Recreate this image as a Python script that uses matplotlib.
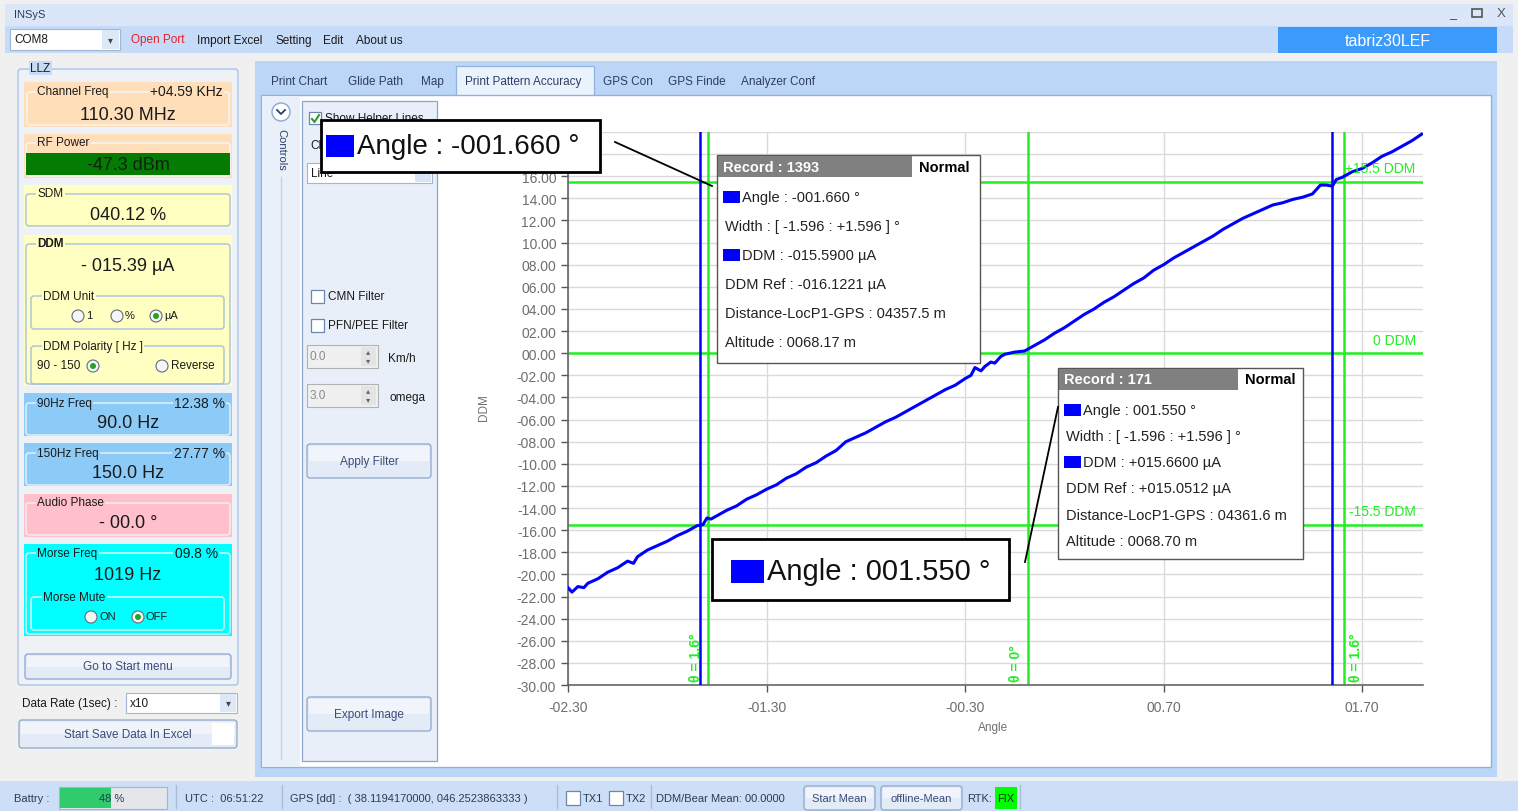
import matplotlib
matplotlib.use("Agg")
import matplotlib.pyplot as plt
from matplotlib.patches import Rectangle, FancyBboxPatch, Circle
from matplotlib.ticker import FixedLocator, FuncFormatter

plt.rcParams["font.family"] = ["Liberation Sans", "DejaVu Sans"]

# ---- chart data ----
angle = [-2.30, -2.28, -2.25, -2.22, -2.20, -2.15, -2.10, -2.05, -2.00, -1.97,
         -1.95, -1.90, -1.85, -1.80, -1.75, -1.70, -1.65, -1.62, -1.60, -1.58,
         -1.55, -1.50, -1.45, -1.40, -1.35, -1.30, -1.25, -1.20, -1.15, -1.10,
         -1.05, -1.00, -0.95, -0.90, -0.85, -0.80, -0.75, -0.70, -0.65, -0.60,
         -0.55, -0.50, -0.45, -0.40, -0.35, -0.30, -0.27, -0.25, -0.22, -0.20,
         -0.17, -0.15, -0.12, -0.10, -0.05, 0.00, 0.02, 0.05, 0.10, 0.15,
         0.20, 0.25, 0.30, 0.35, 0.40, 0.45, 0.50, 0.55, 0.60, 0.65,
         0.70, 0.75, 0.80, 0.85, 0.90, 0.95, 1.00, 1.05, 1.10, 1.15,
         1.20, 1.25, 1.30, 1.35, 1.40, 1.45, 1.49, 1.52, 1.55, 1.57,
         1.60, 1.65, 1.70, 1.75, 1.80, 1.85, 1.90, 1.95, 2.00]
ddm = [-21.2, -21.6, -21.1, -21.2, -20.8, -20.4, -19.8, -19.4, -18.8, -19.0,
       -18.4, -17.8, -17.4, -17.0, -16.5, -16.1, -15.6, -15.5, -14.9, -15.0,
       -14.7, -14.2, -13.8, -13.2, -12.8, -12.3, -11.9, -11.3, -10.9, -10.3,
       -9.9, -9.3, -8.8, -8.0, -7.6, -7.2, -6.7, -6.2, -5.8, -5.3,
       -4.8, -4.3, -3.8, -3.3, -2.9, -2.3, -2.0, -1.3, -1.6, -1.2,
       -0.8, -0.9, -0.3, -0.1, 0.1, 0.2, 0.4, 0.7, 1.2, 1.8,
       2.3, 2.9, 3.5, 4.0, 4.6, 5.1, 5.7, 6.3, 6.8, 7.5,
       8.0, 8.6, 9.1, 9.6, 10.1, 10.6, 11.2, 11.7, 12.2, 12.6,
       13.0, 13.4, 13.6, 13.9, 14.1, 14.4, 15.2, 15.2, 15.1, 15.7,
       15.9, 16.4, 16.7, 17.2, 17.8, 18.2, 18.7, 19.2, 19.8]

helper_ddm = [15.5, 0.0, -15.5]
helper_ddm_labels = ["+15.5 DDM", "0 DDM", "-15.5 DDM"]
helper_theta = [-1.596, 0.015, 1.61]
helper_theta_labels = ["θ = 1.6°", "θ = 0°", "θ = 1.6°"]
record_angles = [-1.635, 1.549]
x_ticks = [-2.30, -1.30, -0.30, 0.70, 1.70]
y_ticks = list(range(-30, 21, 2))

record_titles = ["Record : 1393", "Record : 171"]
record_lines = [
    ["Angle : -001.660 °", "Width : [ -1.596 : +1.596 ] °", "DDM : -015.5900 µA",
     "DDM Ref : -016.1221 µA", "Distance-LocP1-GPS : 04357.5 m", "Altitude : 0068.17 m"],
    ["Angle : 001.550 °", "Width : [ -1.596 : +1.596 ] °", "DDM : +015.6600 µA",
     "DDM Ref : +015.0512 µA", "Distance-LocP1-GPS : 04361.6 m", "Altitude : 0068.70 m"],
]
callout_texts = ["Angle : -001.660 °", "Angle : 001.550 °"]

tabs = ["Print Chart", "Glide Path", "Map", "Print Pattern Accuracy", "GPS Con",
        "GPS Finde", "Analyzer Conf"]
menu_items = ["Import Excel", "Setting", "Edit", "About us"]

W, H = 1518, 812
fig = plt.figure(figsize=(W / 100, H / 100), dpi=100)

ui = fig.add_axes([0, 0, 1, 1], zorder=0)
ui.set_xlim(0, W)
ui.set_ylim(H, 0)
ui.axis("off")

top = fig.add_axes([0, 0, 1, 1], zorder=5)
top.set_xlim(0, W)
top.set_ylim(H, 0)
top.axis("off")
top.patch.set_alpha(0)

TXT = "#1a1a1a"
BTN = "#3b4b78"


def rect(ax, x0, y0, x1, y1, fc, ec="none", lw=1.0, z=1):
    ax.add_patch(Rectangle((x0, y0), x1 - x0, y1 - y0, facecolor=fc,
                           edgecolor=ec, linewidth=lw, zorder=z))


def rrect(ax, x0, y0, x1, y1, fc, ec, lw=1.0, z=1, r=3):
    ax.add_patch(FancyBboxPatch((x0, y0), x1 - x0, y1 - y0,
                                boxstyle=f"round,pad=0,rounding_size={r}",
                                facecolor=fc, edgecolor=ec, linewidth=lw, zorder=z))


def txt(ax, x, y, s, size=8.5, color=TXT, ha="left", z=6, **kw):
    return ax.text(x, y, s, fontsize=size, color=color, ha=ha, va="center", zorder=z, **kw)


def group_title(ax, x, y, s, bg, size=8.5, ha="left", **kw):
    ax.text(x, y, s, fontsize=size, color=TXT, ha=ha, va="center", zorder=6,
            bbox=dict(facecolor=bg, edgecolor="none", pad=1.0), **kw)


def radio(ax, x, y, checked=False):
    ax.add_patch(Circle((x, y), 6, facecolor="#f6f6f6", edgecolor="#5f6f80",
                        linewidth=0.8, zorder=5))
    if checked:
        ax.add_patch(Circle((x, y), 3, facecolor="#26a326", edgecolor="none", zorder=6))


def checkbox(ax, x0, y0, size=13, checked=False):
    rect(ax, x0, y0, x0 + size, y0 + size, "white", "#6d87ab", 0.9, z=5)
    if checked:
        ax.plot([x0 + 3, x0 + 5.5, x0 + 10], [y0 + 7, y0 + 10, y0 + 3],
                color="#2f9a2f", lw=1.5, zorder=6)


def button(ax, x0, y0, x1, y1, label, size=8.5):
    rrect(ax, x0, y0, x1, y1, "#e3ebf7", "#8aa6cc", 0.9, z=3, r=3)
    rect(ax, x0 + 2, y0 + 2, x1 - 2, (y0 + y1) / 2, "#f1f5fb", z=3)
    txt(ax, (x0 + x1) / 2, (y0 + y1) / 2, label, size, BTN, ha="center")


# ---- window frame ----
rect(ui, 0, 0, W, H, "#f0f0f0", z=0)
rect(ui, 5, 5, 1513, 27, "#dbe7f9")
txt(ui, 14, 15, "INSyS", 8, "#2a3a5a")
txt(ui, 1453, 14, "_", 9, "#444", ha="center")
rect(ui, 1472, 10, 1482, 18, "none", "#555", 1.2, z=3)
txt(ui, 1501, 14, "X", 9.5, "#555", ha="center")

rect(ui, 5, 27, 1513, 54, "#c5dbf8")
rect(ui, 10, 30, 120, 51, "white", "#a2b6d2", 0.8, z=3)
rect(ui, 102, 31, 119, 50, "#dde8f6", z=3)
txt(ui, 110, 40, "▾", 7, "#444", ha="center")
txt(ui, 14, 40, "COM8", 8.5)
txt(ui, 131, 40, "Open Port", 8.5, "#e3222c")
for label, x in zip(menu_items, [197, 276, 323, 356]):
    txt(ui, x, 41, label, 8.5)
rect(ui, 1278, 28, 1497, 54, "#3c9bfa", z=3)
txt(ui, 1388, 41, "tabriz30LEF", 11.5, "white", ha="center")

# ---- left LLZ panel ----
rrect(ui, 18, 70, 238, 686, "#eef1f6", "#a9c4e8", 1.0, z=1)
group_title(ui, 30, 69, "LLZ", "#c7dbf5", 8.5)

PEACH, YEL, BLUE, PINK, CYAN = "#ffdfba", "#ffffc2", "#8ccbf7", "#ffc0cb", "#00ffff"
INNER = "#a8c0e0"

# Channel Freq
rect(ui, 24, 83, 232, 128, PEACH, z=2)
rrect(ui, 27, 93, 229, 126, "none", "#f7f7f7", 1.0, z=3)
group_title(ui, 37, 92, "Channel Freq", PEACH)
group_title(ui, 223, 92, "+04.59 KHz", PEACH, 10, ha="right")
txt(ui, 128, 115, "110.30 MHz", 13, ha="center")
# RF Power
rect(ui, 24, 135, 232, 179, PEACH, z=2)
rrect(ui, 26, 144, 230, 177, "none", "#f7f7f7", 1.0, z=3)
group_title(ui, 37, 143, "RF Power", PEACH)
rect(ui, 26, 154, 230, 176, "#047c04", z=4)
txt(ui, 128, 165, "-47.3 dBm", 13, "#102010", ha="center")
# SDM
rect(ui, 24, 186, 232, 229, YEL, z=2)
rrect(ui, 26, 195, 230, 227, "none", INNER, 1.0, z=3)
group_title(ui, 37, 194, "SDM", YEL)
txt(ui, 128, 216, "040.12 %", 13, ha="center")
# DDM
rect(ui, 24, 236, 232, 387, YEL, z=2)
rrect(ui, 26, 245, 230, 385, "none", INNER, 1.0, z=3)
group_title(ui, 37, 244, "DDM", YEL, weight="bold")
txt(ui, 128, 267, "- 015.39 µA", 13, ha="center")
rrect(ui, 31, 297, 224, 330, "none", INNER, 1.0, z=3)
group_title(ui, 43, 297, "DDM Unit", YEL)
for x, lab, chk in [(78, "1", False), (117, "%", False), (156, "µA", True)]:
    radio(ui, x, 317, chk)
    txt(ui, x + 8, 316, lab, 8)
rrect(ui, 31, 347, 224, 385, "none", INNER, 1.0, z=3)
group_title(ui, 43, 347, "DDM Polarity [ Hz ]", YEL)
txt(ui, 37, 366, "90 - 150", 8.5)
radio(ui, 93, 367, True)
radio(ui, 162, 367, False)
txt(ui, 171, 366, "Reverse", 8.5)
# 90 / 150 Hz
for y0, name, pct, val in [(394, "90Hz Freq", "12.38 %", "90.0 Hz"),
                           (444, "150Hz Freq", "27.77 %", "150.0 Hz")]:
    rect(ui, 24, y0, 232, y0 + 43, BLUE, z=2)
    rrect(ui, 26, y0 + 10, 230, y0 + 42, "none", "#e8f2fc", 1.0, z=3)
    group_title(ui, 37, y0 + 10, name, BLUE)
    group_title(ui, 225, y0 + 10, pct, BLUE, 10, ha="right")
    txt(ui, 128, y0 + 30, val, 13, ha="center")
# Audio Phase
rect(ui, 24, 495, 232, 538, PINK, z=2)
rrect(ui, 26, 504, 230, 536, "none", "#f2f2f2", 1.0, z=3)
group_title(ui, 37, 503, "Audio Phase", PINK)
txt(ui, 128, 524, "- 00.0 °", 13, ha="center")
# Morse
rect(ui, 24, 545, 232, 637, CYAN, z=2)
rrect(ui, 26, 554, 230, 635, "none", "#f2f2f2", 1.0, z=3)
group_title(ui, 37, 554, "Morse Freq", CYAN)
group_title(ui, 218, 554, "09.8 %", CYAN, 10, ha="right")
txt(ui, 128, 576, "1019 Hz", 13, ha="center")
rrect(ui, 31, 598, 224, 631, "none", "#f2f2f2", 1.0, z=3)
group_title(ui, 43, 598, "Morse Mute", CYAN)
radio(ui, 91, 618, False)
txt(ui, 99, 617, "ON", 8)
radio(ui, 138, 618, True)
txt(ui, 146, 617, "OFF", 8)

button(ui, 25, 655, 231, 680, "Go to Start menu")
txt(ui, 22, 704, "Data Rate (1sec) :", 8.5)
rect(ui, 126, 694, 237, 714, "white", "#a2b6d2", 0.8, z=3)
rect(ui, 220, 695, 236, 713, "#dde8f6", z=3)
txt(ui, 228, 703, "▾", 7, "#444", ha="center")
txt(ui, 130, 704, "x10", 8.5)
button(ui, 19, 721, 237, 749, "Start Save Data In Excel")
rect(ui, 212, 724, 234, 746, "white", z=4)

# ---- main tab area ----
rect(ui, 255, 62, 1497, 778, "#bcd6f7", z=1)
rect(ui, 456, 67, 594, 97, "#eaf2fc", "#8fb3e3", 0.9, z=2)
for label, x in zip(tabs, [271, 348, 421, 465, 603, 668, 741]):
    txt(ui, x, 82, label, 8.5, "#2c3e66")
rect(ui, 261, 96, 1491, 768, "white", "#8db2e2", 1.0, z=2)
rect(ui, 262, 97, 300, 767, "#e9f0fa", z=2)
ui.add_patch(Circle((281, 113), 9, facecolor="white", edgecolor="#8aa8d0", lw=1, zorder=4))
ui.plot([277, 281, 285], [111, 115, 111], color="#2c3e66", lw=1.3, zorder=5)
txt(ui, 281, 150, "Controls", 8, "#2c3e66", ha="center", rotation=-90)
ui.plot([281, 281], [178, 760], color="#c5d4ea", lw=1, zorder=3)

rect(ui, 302, 102, 437, 762, "#e8eff9", "#8aa6cc", 0.9, z=2)
checkbox(ui, 309, 113, 12, True)
# helper-lines caption sits under the big callout, only its top shows
helper_cap = txt(ui, 325, 119, "Show Helper Lines", 8.5)
helper_cap.set_clip_path(Rectangle((322, 100), 300, 21, transform=ui.transData))
txt(ui, 310, 146, "Ch", 8.5)
rect(ui, 307, 164, 432, 184, "white", "#a2b6d2", 0.8, z=3)
rect(ui, 415, 165, 431, 183, "#d8e4f4", z=3)
txt(ui, 311, 174, "Line", 8.5)
checkbox(ui, 311, 291)
txt(ui, 328, 297, "CMN Filter", 8.5)
checkbox(ui, 311, 320)
txt(ui, 328, 326, "PFN/PEE Filter", 8.5)
for y0, val, unit, ux in [(346, "0.0", "Km/h", 388), (385, "3.0", "omega", 389)]:
    rect(ui, 307, y0, 378, y0 + 23, "#f0f0f0", "#b2b2b2", 0.8, z=3)
    rect(ui, 361, y0 + 2, 376, y0 + 21, "#e4e4e4", z=3)
    txt(ui, 368.5, y0 + 7, "▴", 6, "#666", ha="center")
    txt(ui, 368.5, y0 + 16, "▾", 6, "#666", ha="center")
    txt(ui, 310, y0 + 11, val, 8.5, "#8a8a8a")
    txt(ui, ux, y0 + 13, unit, 8.5)
button(ui, 307, 445, 431, 479, "Apply Filter")
button(ui, 307, 698, 431, 732, "Export Image")

txt(ui, 484, 408, "DDM", 8.5, "#707070", ha="center", rotation=90)
txt(ui, 993, 728, "Angle", 8.5, "#707070", ha="center")

# ---- chart ----
x0p, x1p, y0p, y1p = 568, 1423, 133, 686
ax = fig.add_axes([x0p / W, (H - y1p) / H, (x1p - x0p) / W, (y1p - y0p) / H], zorder=2)
ax.set_xlim(-2.30, 2.007)
ax.set_ylim(-30, 20)
ax.xaxis.set_major_locator(FixedLocator(x_ticks))
ax.yaxis.set_major_locator(FixedLocator(y_ticks))


def signed_fmt(v, pos):
    return f"{v:06.2f}" if v < 0 else f"{v:05.2f}"


def y_fmt(v, pos):
    # the two top labels are hidden by the callout in the screenshot
    if v > 16:
        return ""
    return signed_fmt(v, pos)


ax.xaxis.set_major_formatter(FuncFormatter(signed_fmt))
ax.yaxis.set_major_formatter(FuncFormatter(y_fmt))
ax.tick_params(colors="#555555", labelcolor="#6e6e6e", labelsize=10, length=5, width=1)
ax.tick_params(axis="x", pad=6)
ax.grid(True, color="#dadada", lw=1)
ax.set_axisbelow(True)
for s in ["top", "right"]:
    ax.spines[s].set_visible(False)
for s in ["left", "bottom"]:
    ax.spines[s].set_color("#666666")
    ax.spines[s].set_linewidth(1.2)

GREEN = "#22ee22"
for v in helper_ddm:
    ax.axhline(v, color=GREEN, lw=1.8, zorder=2)
for v in helper_theta:
    ax.axvline(v, color=GREEN, lw=1.8, zorder=2)
for v in record_angles:
    ax.axvline(v, color="#0000ff", lw=1.8, zorder=3)
ax.plot(angle, ddm, color="#0000ff", lw=2.2, zorder=4)

for v, lab in zip(helper_ddm, helper_ddm_labels):
    ax.text(1.97, v + 0.6, lab, color=GREEN, fontsize=10, ha="right", va="bottom", zorder=5)
for i, (v, lab) in enumerate(zip(helper_theta, helper_theta_labels)):
    if i == 2:
        xt, ha = v + 0.025, "left"
    else:
        xt, ha = v - 0.025, "right"
    ax.text(xt, -29.6, lab, color=GREEN, fontsize=10, weight="bold",
            rotation=90, ha=ha, va="bottom", zorder=5)

# ---- record tooltips and callouts ----
for (bx0, by0, bx1, by1, hx1), title, lines in zip(
        [(717, 156, 980, 364, 912), (1058, 369, 1303, 560, 1238)],
        record_titles, record_lines):
    rect(top, bx0, by0, bx1, by1, "white", "#555555", 1.0, z=2)
    rect(top, bx0 + 1, by0 + 1, hx1, by0 + 22, "#808080", z=3)
    txt(top, bx0 + 6, by0 + 11.5, title, 10.5, "white", weight="bold")
    txt(top, hx1 + 7, by0 + 11.5, "Normal", 10.5, "black", weight="bold")
    step = (by1 - by0 - 34) / 6.0
    for i, line in enumerate(lines):
        y = by0 + 42 + i * step
        if i in (0, 2):
            rect(top, bx0 + 6, y - 6, bx0 + 23, y + 6, "#0000ff", z=3)
            txt(top, bx0 + 25, y, line, 10.5, "#222222")
        else:
            txt(top, bx0 + 8, y, line, 10.5, "#222222")

for (bx0, by0, bx1, by1), (sx0, sy0, sx1, sy1), s, size in zip(
        [(321, 121, 600, 173), (712, 540, 1009, 601)],
        [(326, 136, 354, 158), (731, 561, 764, 584)],
        callout_texts, [20, 21]):
    rect(top, bx0, by0, bx1, by1, "white", "black", 2.0, z=2)
    rect(top, sx0, sy0, sx1, sy1, "#0000ff", z=3)
    txt(top, sx1 + 3, (sy0 + sy1) / 2, s, size, "#111111")
top.plot([615, 712], [143, 187], color="black", lw=1.3, zorder=2)
top.plot([1025, 1058], [563, 408], color="black", lw=1.3, zorder=2)

# ---- status bar ----
rect(ui, 0, 782, W, H, "#cddff6", z=1)
txt(ui, 14, 799, "Battry :", 8, "#2a3a5a")
rect(ui, 59, 788, 167, 810, "#e4e6ea", "#a8b4c8", 0.8, z=3)
rect(ui, 60, 789, 111, 809, "#2fcb6c", z=4)
txt(ui, 112, 799, "48 %", 8, "#2a3a5a", ha="center")
for x in [176, 282, 557, 651, 1020]:
    ui.plot([x, x], [786, 809], color="#a9bcd8", lw=1, zorder=3)
txt(ui, 185, 799, "UTC :  06:51:22", 8, "#2a3a5a")
txt(ui, 290, 799, "GPS [dd] :  ( 38.1194170000, 046.2523863333 )", 8, "#2a3a5a")
checkbox(ui, 566, 792, 14)
txt(ui, 583, 799, "TX1", 8, "#2a3a5a")
checkbox(ui, 609, 792, 14)
txt(ui, 626, 799, "TX2", 8, "#2a3a5a")
txt(ui, 656, 799, "DDM/Bear Mean: 00.0000", 8, "#2a3a5a")
button(ui, 804, 787, 875, 811, "Start Mean", 8)
button(ui, 881, 787, 962, 811, "offline-Mean", 8)
txt(ui, 967, 799, "RTK:", 8, "#2a3a5a")
rect(ui, 995, 788, 1017, 810, "#00ff00", z=3)
txt(ui, 1006, 799, "FIX", 8, "#103010", ha="center")

fig.savefig("out.png", dpi=100)
